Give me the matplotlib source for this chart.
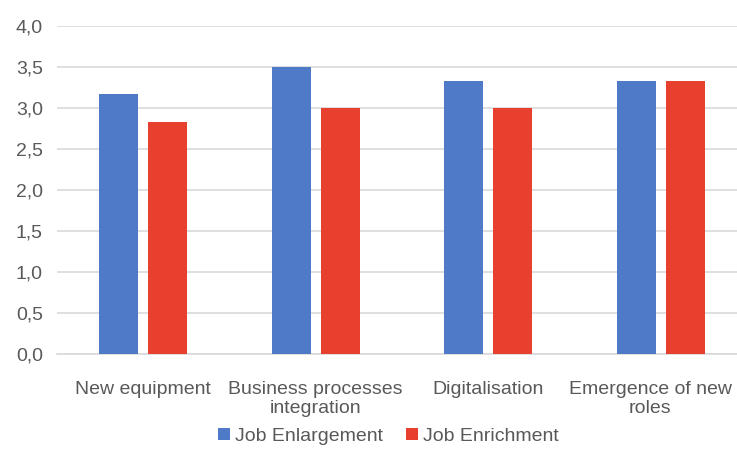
import numpy as np
import matplotlib.pyplot as plt
import matplotlib.transforms as mtransforms
from matplotlib.ticker import FuncFormatter

plt.rcParams['font.family'] = ['Liberation Sans', 'DejaVu Sans']

categories = ['New equipment', 'Business processes\nintegration', 'Digitalisation', 'Emergence of new\nroles']
enlargement = [3.17, 3.5, 3.33, 3.33]
enrichment = [2.83, 3.0, 3.0, 3.33]

blue = '#4E7AC7'
red = '#E8402F'
grey = '#595959'

fig = plt.figure(figsize=(7.37, 4.5), dpi=100)
ax = fig.add_axes([0.077, 0.213, 0.923, 0.729])

x = np.arange(len(categories))
w = 0.226
off = 0.142
ax.bar(x - off, enlargement, w, color=blue, label='Job Enlargement', zorder=3)
ax.bar(x + off, enrichment, w, color=red, label='Job Enrichment', zorder=3)

ax.set_xlim(-0.5, 3.44)
ax.set_ylim(0, 4)
ax.set_yticks(np.arange(0, 4.01, 0.5))
ax.yaxis.set_major_formatter(FuncFormatter(lambda v, p: f'{v:.1f}'.replace('.', ',')))
ax.grid(axis='y', color='#D9D9D9', linewidth=1.2, zorder=0)
for s in ['top', 'right', 'left']:
    ax.spines[s].set_visible(False)
ax.spines['bottom'].set_color('#D9D9D9')
ax.spines['bottom'].set_linewidth(1.2)
ax.tick_params(axis='both', length=0, labelsize=14, labelcolor=grey)
ax.tick_params(axis='y', pad=10)
ax.set_xticks(x)
ax.set_xticklabels([])

# category labels; the last one is nudged left so it stays inside the figure
base = ax.get_xaxis_transform()
shifts = [0, 0, 0, -11]
for xi, lab, dx in zip(x, categories, shifts):
    tr = base + mtransforms.ScaledTranslation(dx / 100, -27 / 100, fig.dpi_scale_trans)
    ax.text(xi, 0, lab, transform=tr, ha='center', va='top', fontsize=14,
            color=grey, linespacing=1.15)

fig.legend(loc='lower center', bbox_to_anchor=(0.527, -0.028), ncol=2, frameon=False,
           fontsize=14, labelcolor=grey, handlelength=0.6, handleheight=0.6,
           handletextpad=0.25, columnspacing=1.2)

plt.savefig('out.png', dpi=100)
